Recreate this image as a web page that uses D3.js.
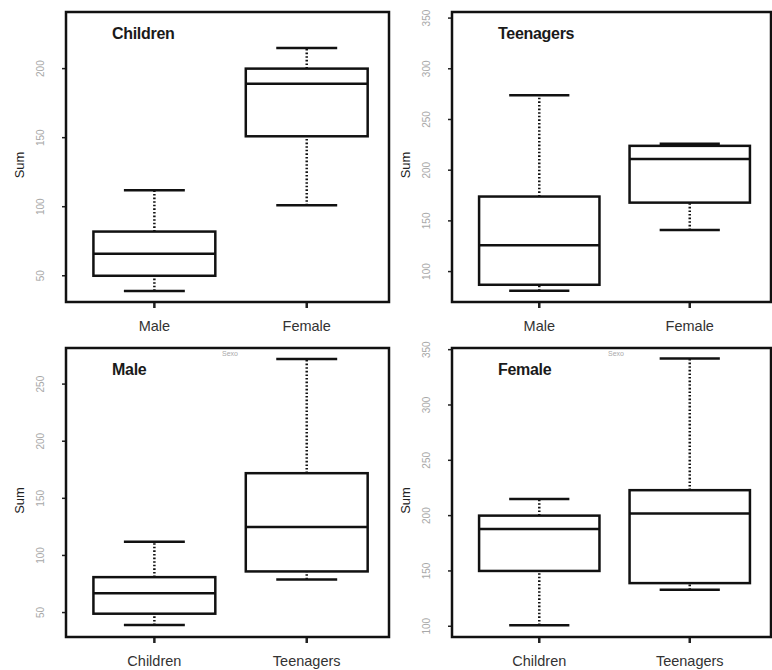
<!DOCTYPE html>
<html>
<head>
<meta charset="utf-8">
<script src="https://cdn.jsdelivr.net/npm/d3@7"></script>
<style>
  body { margin: 0; background: #fff; }
  svg { display: block; }
</style>
</head>
<body>
<div id="chart"></div>
<script>
// five-number summaries: [lower whisker, Q1, median, Q3, upper whisker]
var childrenCats = ["Male", "Female"];
var childrenSum = [[39, 50, 66, 82, 112], [101, 151, 189, 200, 215]];
var teenCats = ["Male", "Female"];
var teenSum = [[81, 87, 126, 174, 274], [141, 168, 211, 224, 226]];
var maleCats = ["Children", "Teenagers"];
var maleSum = [[39, 49, 67, 81, 112], [79, 86, 125, 172, 272]];
var femaleCats = ["Children", "Teenagers"];
var femaleSum = [[101, 150, 188, 200, 215], [133, 139, 202, 223, 342]];

var childrenTicks = [50, 100, 150, 200];
var teenTicks = [100, 150, 200, 250, 300, 350];
var maleTicks = [50, 100, 150, 200, 250];
var femaleTicks = [100, 150, 200, 250, 300, 350];

var childrenLim = [31, 241];
var teenLim = [70, 356];
var maleLim = [28.6, 281.6];
var femaleLim = [90.3, 351.5];

var svg = d3.select("#chart").append("svg")
    .attr("width", 772)
    .attr("height", 670);

var panels = [
  { title: "Children", cats: childrenCats, sums: childrenSum, ticks: childrenTicks, lim: childrenLim,
    left: 66, right: 389, top: 12, bottom: 302, sexo: false },
  { title: "Teenagers", cats: teenCats, sums: teenSum, ticks: teenTicks, lim: teenLim,
    left: 452, right: 771, top: 12, bottom: 302, sexo: false },
  { title: "Male", cats: maleCats, sums: maleSum, ticks: maleTicks, lim: maleLim,
    left: 66, right: 389, top: 348, bottom: 637, sexo: true },
  { title: "Female", cats: femaleCats, sums: femaleSum, ticks: femaleTicks, lim: femaleLim,
    left: 452, right: 771, top: 348, bottom: 637, sexo: true }
];

var font = "Liberation Sans, Arial, sans-serif";
var lw = 2.5;

panels.forEach(function(p) { drawPanel(p); });

function drawPanel(p)
{
    var x = d3.scaleLinear().domain([0.42, 2.54]).range([p.left, p.right]);
    var y = d3.scaleLinear().domain(p.lim).range([p.bottom, p.top]);
    var g = svg.append("g");

    // y ticks + rotated labels
    g.selectAll(".ytick")
      .data(p.ticks)
    .enter().append("line")
      .attr("x1", p.left - 4).attr("x2", p.left)
      .attr("y1", function(d) { return y(d); })
      .attr("y2", function(d) { return y(d); })
      .style("stroke", "#222").style("stroke-width", 1.5);

    g.selectAll(".ylab")
      .data(p.ticks)
    .enter().append("text")
      .attr("transform", function(d) { return "translate(" + (p.left - 26) + "," + y(d) + ") rotate(-90)"; })
      .attr("text-anchor", "middle")
      .attr("dominant-baseline", "central")
      .style("font-family", font)
      .style("font-size", "10px")
      .style("fill", "#a8a8a8")
      .text(function(d) { return d; });

    // x ticks + labels
    g.selectAll(".xtick")
      .data(p.cats)
    .enter().append("line")
      .attr("x1", function(d, i) { return x(i + 1); })
      .attr("x2", function(d, i) { return x(i + 1); })
      .attr("y1", p.bottom).attr("y2", p.bottom + 6)
      .style("stroke", "#222").style("stroke-width", lw);

    g.selectAll(".xlab")
      .data(p.cats)
    .enter().append("text")
      .attr("x", function(d, i) { return x(i + 1); })
      .attr("y", p.bottom + 29)
      .attr("text-anchor", "middle")
      .style("font-family", font)
      .style("font-size", "14.5px")
      .style("fill", "#333")
      .text(function(d) { return d; });

    // boxes
    var box = g.selectAll(".box")
      .data(p.sums)
    .enter().append("g")
      .attr("class", "box");

    box.append("line")
      .attr("x1", function(d, i) { return x(i + 1); })
      .attr("x2", function(d, i) { return x(i + 1); })
      .attr("y1", function(d) { return y(d[0]); })
      .attr("y2", function(d) { return y(d[1]); })
      .style("stroke", "#111").style("stroke-width", lw)
      .style("stroke-dasharray", "1.6,2");

    box.append("line")
      .attr("x1", function(d, i) { return x(i + 1); })
      .attr("x2", function(d, i) { return x(i + 1); })
      .attr("y1", function(d) { return y(d[3]); })
      .attr("y2", function(d) { return y(d[4]); })
      .style("stroke", "#111").style("stroke-width", lw)
      .style("stroke-dasharray", "1.6,2");

    [0, 4].forEach(function(k) {
        box.append("line")
          .attr("x1", function(d, i) { return x(i + 0.8); })
          .attr("x2", function(d, i) { return x(i + 1.2); })
          .attr("y1", function(d) { return y(d[k]); })
          .attr("y2", function(d) { return y(d[k]); })
          .style("stroke", "#111").style("stroke-width", lw);
    });

    box.append("rect")
      .attr("x", function(d, i) { return x(i + 0.6); })
      .attr("width", function(d, i) { return x(i + 1.4) - x(i + 0.6); })
      .attr("y", function(d) { return y(d[3]); })
      .attr("height", function(d) { return y(d[1]) - y(d[3]); })
      .style("fill", "none").style("stroke", "#111").style("stroke-width", lw);

    box.append("line")
      .attr("x1", function(d, i) { return x(i + 0.6); })
      .attr("x2", function(d, i) { return x(i + 1.4); })
      .attr("y1", function(d) { return y(d[2]); })
      .attr("y2", function(d) { return y(d[2]); })
      .style("stroke", "#111").style("stroke-width", lw);

    // frame
    g.append("rect")
      .attr("x", p.left).attr("y", p.top)
      .attr("width", p.right - p.left).attr("height", p.bottom - p.top)
      .style("fill", "none").style("stroke", "#111").style("stroke-width", lw);

    // title inside the frame
    g.append("text")
      .attr("x", p.left + 46)
      .attr("y", p.top + 27)
      .style("font-family", font)
      .style("font-size", "16px")
      .style("font-weight", "bold")
      .style("letter-spacing", "-0.3px")
      .style("fill", "#1a1a1a")
      .text(p.title);

    // y axis title
    g.append("text")
      .attr("transform", "translate(" + (p.left - 47) + "," + ((p.top + p.bottom) / 2 + 8) + ") rotate(-90)")
      .attr("text-anchor", "middle")
      .attr("dominant-baseline", "central")
      .style("font-family", font)
      .style("font-size", "13px")
      .style("fill", "#222")
      .text("Sum");

    if (p.sexo) {
        g.append("text")
          .attr("x", p.left + 164)
          .attr("y", p.top + 8)
          .attr("text-anchor", "middle")
          .style("font-family", font)
          .style("font-size", "7px")
          .style("fill", "#aaa")
          .text("Sexo");
    }
}
</script>
</body>
</html>
